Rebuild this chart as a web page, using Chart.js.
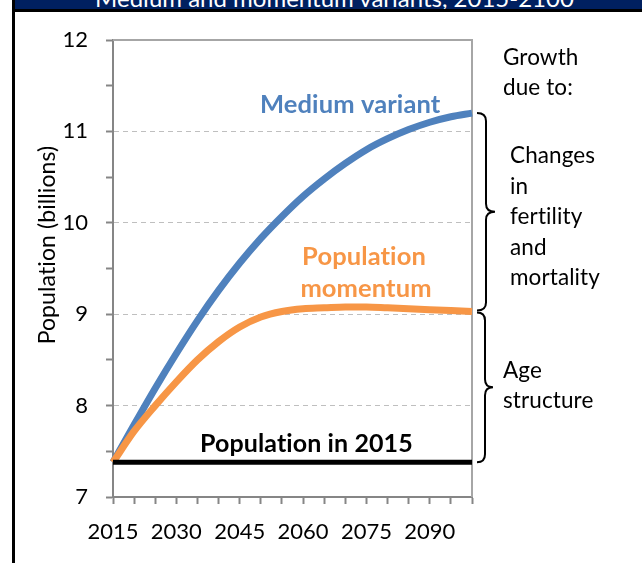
<!DOCTYPE html>
<html>
<head>
<meta charset="utf-8">
<script src="https://cdn.jsdelivr.net/npm/chart.js@4.4.1/dist/chart.umd.min.js"></script>
<style>
    body { margin: 0; background: #fff; }
    #wrap { position: relative; width: 642px; height: 563px; overflow: hidden; }
    #chart { position: absolute; left: 0; top: 0; }
    #hdr { position: absolute; left: 15px; top: 0; width: 627px; height: 9px; background: #002060; overflow: hidden; }
    #hdr span { position: absolute; left: 0; right: 0; top: -17px; padding-left: 12px; text-align: center; font: 24px Lato; color: #fff; white-space: nowrap; font-variant-ligatures: none; }
    #hdrline { position: absolute; left: 12px; top: 9px; width: 630px; height: 3px; background: #000; }
    #lborder { position: absolute; left: 12px; top: 0; width: 3px; height: 563px; background: #000; }
</style>
</head>
<body>
<div id="wrap">
    <canvas id="chart" width="642" height="563"></canvas>
    <div id="hdr"><span>Medium and momentum variants, 2015-2100</span></div>
    <div id="hdrline"></div>
    <div id="lborder"></div>
</div>
<script>
// values (billions)
const years = [2015, 2020, 2025, 2030, 2035, 2040, 2045, 2050, 2055, 2060, 2065, 2070, 2075, 2080, 2085, 2090, 2095, 2100];
const mediumVariant = [7.38, 7.79, 8.19, 8.57, 8.93, 9.26, 9.56, 9.83, 10.07, 10.29, 10.48, 10.65, 10.80, 10.92, 11.02, 11.10, 11.16, 11.20];
const momentum = [7.38, 7.72, 8.00, 8.26, 8.50, 8.70, 8.86, 8.97, 9.03, 9.06, 9.07, 9.08, 9.08, 9.07, 9.06, 9.05, 9.04, 9.03];
const pop2015 = 7.38;
const xTickLabels = [2015, 2030, 2045, 2060, 2075, 2090];
const yTickLabels = [7, 8, 9, 10, 11, 12];

const BLUE = "#4f81bd";
const ORANGE = "#f79646";
const AXIS = "#868686";

function toPoints(vals) {
    return years.map((yr, i) => ({ x: yr, y: vals[i] }));
}

function drawBrace(ctx, x0, x1, x2, y1, y2) {
    let ym = (y1 + y2) / 2, r = 8;
    ctx.beginPath();
    ctx.moveTo(x0, y1);
    ctx.quadraticCurveTo(x1, y1, x1, y1 + r);
    ctx.lineTo(x1, ym - r);
    ctx.quadraticCurveTo(x1, ym, x2, ym);
    ctx.quadraticCurveTo(x1, ym, x1, ym + r);
    ctx.lineTo(x1, y2 - r);
    ctx.quadraticCurveTo(x1, y2, x0, y2);
    ctx.stroke();
}

function text(ctx, str, x, y, font, color, align) {
    ctx.font = font;
    ctx.fillStyle = color;
    ctx.textAlign = align || "left";
    ctx.textBaseline = "alphabetic";
    ctx.letterSpacing = "0.1px"; // keeps Lato from joining "ti"
    ctx.fillText(str, x, y);
}

const frame = {
    id: "frame",
    beforeDatasetsDraw(chart) {
        let { ctx, chartArea: a } = chart;
        ctx.save();
        ctx.strokeStyle = "#a6a6a6";
        ctx.lineWidth = 2;
        ctx.beginPath();
        ctx.moveTo(a.left, a.top);
        ctx.lineTo(a.right, a.top);
        ctx.lineTo(a.right, a.bottom);
        ctx.stroke();
        ctx.restore();
    }
};

const annotations = {
    id: "annotations",
    afterDatasetsDraw(chart) {
        let { ctx } = chart;
        let y = chart.scales.y;
        ctx.save();

        text(ctx, "Medium variant", 260, 113, "bold 25.5px Lato", BLUE);
        text(ctx, "Population", 364, 265, "bold 25.5px Lato", ORANGE, "center");
        text(ctx, "momentum", 366, 297, "bold 25.5px Lato", ORANGE, "center");
        text(ctx, "Population in 2015", 200, 452, "bold 25px Lato", "#000");

        let side = "22.5px Lato";
        text(ctx, "Growth", 503, 65, side, "#000");
        text(ctx, "due to:", 503, 95, side, "#000");
        ["Changes", "in", "fertility", "and", "mortality"].forEach((s, i) => {
            text(ctx, s, 510, 163 + i * 30.5, side, "#000");
        });
        text(ctx, "Age", 503, 378, side, "#000");
        text(ctx, "structure", 503, 408, side, "#000");

        // braces
        ctx.strokeStyle = "#000";
        ctx.lineWidth = 2;
        let last = mediumVariant.length - 1;
        drawBrace(ctx, 477, 486, 495, y.getPixelForValue(mediumVariant[last]), y.getPixelForValue(momentum[last]) - 1);
        drawBrace(ctx, 477, 485, 493, y.getPixelForValue(momentum[last]) + 1, y.getPixelForValue(pop2015));

        // y axis title
        ctx.translate(47, 245);
        ctx.rotate(-Math.PI / 2);
        text(ctx, "Population (billions)", 0, 8, "23px Lato", "#000", "center");
        ctx.restore();
    }
};

Chart.defaults.font.family = "Lato";
Chart.defaults.color = "#000";

new Chart(document.getElementById("chart"), {
    type: "line",
    data: {
        datasets: [{
            label: "Population in 2015",
            data: [{ x: years[0], y: pop2015 }, { x: years[years.length - 1], y: pop2015 }],
            borderColor: "#000",
            borderWidth: 5,
            pointRadius: 0
        }, {
            label: "Population momentum",
            data: toPoints(momentum),
            borderColor: ORANGE,
            borderWidth: 7,
            pointRadius: 0,
            cubicInterpolationMode: "monotone"
        }, {
            label: "Medium variant",
            data: toPoints(mediumVariant),
            borderColor: BLUE,
            borderWidth: 7,
            pointRadius: 0,
            cubicInterpolationMode: "monotone"
        }]
    },
    options: {
        responsive: false,
        animation: false,
        clip: false,
        layout: { padding: { left: 0, right: 170, top: 40, bottom: 0 } },
        plugins: { legend: { display: false }, tooltip: { enabled: false } },
        scales: {
            x: {
                type: "linear",
                min: years[0],
                max: years[years.length - 1],
                afterBuildTicks: axis => {
                    axis.ticks = years.map(v => ({ value: v }));
                },
                afterFit: scale => { scale.height = 66; },
                ticks: {
                    autoSkip: false,
                    maxRotation: 0,
                    padding: 15,
                    font: { size: 22 },
                    callback: v => xTickLabels.includes(v) ? String(v) : ""
                },
                grid: { drawOnChartArea: false, tickLength: 7, tickColor: AXIS, tickWidth: 2 },
                border: { color: AXIS, width: 2 }
            },
            y: {
                min: 7,
                max: 12,
                afterFit: scale => { scale.width = 113; },
                ticks: {
                    stepSize: 0.5,
                    padding: 18,
                    font: { size: 22 },
                    callback: v => yTickLabels.includes(v) ? String(v) : ""
                },
                grid: {
                    color: c => (Number.isInteger(c.tick.value) && c.tick.value > 7 && c.tick.value < 12) ? "#bfbfbf" : "rgba(0,0,0,0)",
                    lineWidth: 1,
                    tickLength: 7,
                    tickColor: AXIS,
                    tickWidth: 2
                },
                border: { color: AXIS, width: 2, dash: [5, 4] }
            }
        }
    },
    plugins: [frame, annotations]
});
</script>
</body>
</html>
